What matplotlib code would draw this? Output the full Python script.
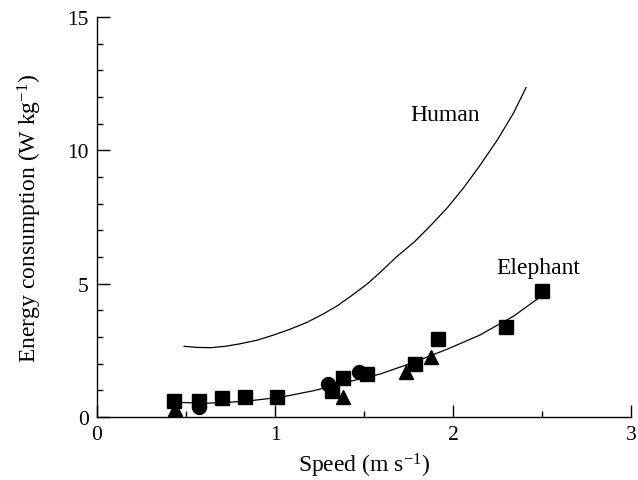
import matplotlib
matplotlib.use("Agg")
import matplotlib.pyplot as plt
from matplotlib.ticker import MultipleLocator

# ---------------- Data ----------------
# measured points, speed (m/s) vs energy (W/kg)
square_x = [0.43, 0.573, 0.704, 0.831, 1.013, 1.322, 1.384, 1.515, 1.787, 1.918, 2.298, 2.50]
square_y = [0.61, 0.61, 0.70, 0.76, 0.76, 0.96, 1.46, 1.61, 1.99, 2.92, 3.36, 4.71]

circle_x = [0.573, 1.296, 1.474]
circle_y = [0.36, 1.24, 1.70]

triangle_x = [0.44, 1.384, 1.736, 1.875]
triangle_y = [0.30, 0.74, 1.70, 2.26]

# fitted curves, points
elephant_x = [0.45, 0.54, 0.62, 0.74, 0.86, 1.03, 1.22, 1.40, 1.59, 1.78, 1.97, 2.15, 2.34, 2.50]
elephant_y = [0.55, 0.53, 0.52, 0.55, 0.61, 0.74, 0.99, 1.30, 1.61, 2.05, 2.55, 3.07, 3.78, 4.55]

human_x = [0.49, 0.56, 0.64, 0.72, 0.80, 0.90, 0.99, 1.08, 1.18, 1.27, 1.35, 1.43, 1.52, 1.60,
           1.68, 1.78, 1.87, 1.97, 2.06, 2.15, 2.25, 2.34, 2.41]
human_y = [2.65, 2.61, 2.60, 2.65, 2.74, 2.88, 3.07, 3.28, 3.55, 3.86, 4.17, 4.55, 5.00, 5.48,
           5.99, 6.55, 7.15, 7.86, 8.60, 9.42, 10.40, 11.40, 12.35]

curve_labels = ["Human", "Elephant"]
label_x = [1.955, 2.48]
label_y = [11.35, 5.62]

# ---------------- Style ----------------
plt.rcParams['font.family'] = ['Liberation Serif', 'DejaVu Serif']
plt.rcParams['mathtext.fontset'] = 'custom'
plt.rcParams['mathtext.rm'] = 'Liberation Serif'
plt.rcParams['mathtext.it'] = 'Liberation Serif:italic'
tick_size = 15.5
label_size = 17

fig = plt.figure(figsize=(6.38, 4.81), dpi=100)
ax = fig.add_axes([97 / 638, 63 / 481, 534 / 638, 400 / 481])

ax.plot(human_x, human_y, color='black', linewidth=0.9)
ax.plot(elephant_x, elephant_y, color='black', linewidth=0.9)

ax.plot(square_x, square_y, 's', color='black', markersize=9.5, linestyle='none')
ax.plot(circle_x, circle_y, 'o', color='black', markersize=10, linestyle='none')
ax.plot(triangle_x, triangle_y, '^', color='black', markersize=10, linestyle='none')

for txt, tx, ty in zip(curve_labels, label_x, label_y):
    ax.text(tx, ty, txt, ha='center', va='center', fontsize=label_size)

ax.set_xlim(0, 3)
ax.set_ylim(0, 15)
ax.xaxis.set_major_locator(MultipleLocator(1))
ax.xaxis.set_minor_locator(MultipleLocator(0.5))
ax.yaxis.set_major_locator(MultipleLocator(5))
ax.yaxis.set_minor_locator(MultipleLocator(1))
ax.tick_params(which='both', direction='in', width=1.0, labelsize=tick_size, pad=6)
ax.tick_params(which='major', length=9)
ax.tick_params(which='minor', length=4.5)

for side in ['top', 'right']:
    ax.spines[side].set_visible(False)
for side in ['left', 'bottom']:
    ax.spines[side].set_linewidth(1.0)

ax.set_xlabel('Speed (m s$^{-1}$)', fontsize=label_size, labelpad=5)
ax.set_ylabel('Energy consumption (W kg$^{-1}$)', fontsize=label_size, labelpad=17)

fig.savefig('out.png', dpi=100)
